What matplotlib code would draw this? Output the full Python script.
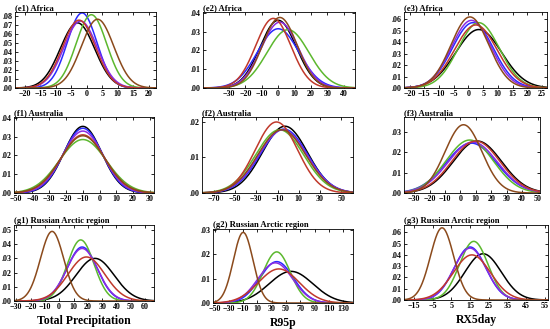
import numpy as np
import matplotlib
matplotlib.use("Agg")
import matplotlib.pyplot as plt
from matplotlib.ticker import FuncFormatter

plt.rcParams['font.family'] = ['Liberation Serif', 'DejaVu Serif']
plt.rcParams['font.weight'] = 'bold'

series = ["black", "blue", "green", "purple", "red", "brown"]
colors = {"black": "#000000", "blue": "#2a2aff", "green": "#5cb82e",
          "purple": "#8a2be2", "red": "#c0392b", "brown": "#8b4a1c"}

titles = ["(e1) Africa", "(e2) Africa", "(e3) Africa",
          "(f1) Australia", "(f2) Australia", "(f3) Australia",
          "(g1) Russian Arctic region", "(g2) Russian Arctic region", "(g3) Russian Arctic region"]
xlabels = ["Total Precipitation", "R95p", "RX5day"]

# fitted normal distributions: means and peak densities per series (black, blue, green, purple, red, brown)
means = {
    "e1": [-3, -1.5, 1.5, -2, -2.5, 3.5],
    "e2": [0, 0, 6, 1, -3, 1],
    "e3": [3.5, 1.5, 3.5, 1, 2.5, 0.5],
    "f1": [-10, -10, -10, -10, -10, -10],
    "f2": [-3, -4, -8, -5, -11, -6],
    "f3": [11, 7, 6, 8, 10, 2],
    "g1": [25, 16, 15, 16, 19, -5],
    "g2": [57, 37, 37, 35, 40, -10],
    "g3": [22, 15, 17, 15, 16, 0],
}
peaks = {
    "e1": [0.072, 0.083, 0.081, 0.074, 0.075, 0.076],
    "e2": [0.036, 0.0315, 0.031, 0.035, 0.037, 0.0375],
    "e3": [0.051, 0.057, 0.057, 0.059, 0.055, 0.062],
    "f1": [0.0355, 0.0345, 0.0285, 0.033, 0.031, 0.0305],
    "f2": [0.0188, 0.018, 0.0178, 0.0178, 0.020, 0.0178],
    "f3": [0.0255, 0.0245, 0.026, 0.025, 0.0255, 0.0335],
    "g1": [0.030, 0.038, 0.043, 0.037, 0.031, 0.049],
    "g2": [0.013, 0.017, 0.021, 0.0165, 0.014, 0.029],
    "g3": [0.041, 0.047, 0.052, 0.046, 0.040, 0.064],
}

xlims = {"e1": (-23.2, 22.4), "e2": (-46, 47), "e3": (-21.9, 26.7),
         "f1": (-51, 32.4), "f2": (-80.9, 60.9), "f3": (-36.5, 51.5),
         "g1": (-31.6, 66.2), "g2": (-52.3, 143.9), "g3": (-20.4, 56.8)}
ylims = {"e1": 0.084, "e2": 0.0404, "e3": 0.0663, "f1": 0.0405, "f2": 0.0214,
         "f3": 0.0373, "g1": 0.0535, "g2": 0.0304, "g3": 0.0665}
xticks = {"e1": np.arange(-20, 21, 5), "e2": np.arange(-30, 41, 10), "e3": np.arange(-20, 26, 5),
          "f1": np.arange(-50, 31, 10), "f2": np.arange(-70, 51, 20), "f3": np.arange(-30, 51, 10),
          "g1": np.arange(-30, 61, 10), "g2": np.arange(-50, 131, 20), "g3": np.arange(-15, 56, 10)}

# axes boxes in pixels: left, right, top, bottom
W, H = 550, 329
boxes = {"e1": (15, 156, 12, 88), "e2": (203, 355, 12, 88), "e3": (404, 547, 12, 88),
         "f1": (14, 154, 117, 193), "f2": (202, 353, 117, 193), "f3": (404, 540, 117, 193),
         "g1": (14, 154, 225, 301), "g2": (213, 353, 229, 303), "g3": (404, 548, 225, 300)}

fig = plt.figure(figsize=(5.5, 3.29), dpi=100)
keys = ["e1", "e2", "e3", "f1", "f2", "f3", "g1", "g2", "g3"]
fmt = FuncFormatter(lambda v, p: ("%.2f" % v).lstrip("0") if v >= 0 else "%.2f" % v)

for i, k in enumerate(keys):
    l, r, t, b = boxes[k]
    ax = fig.add_axes([l / W, 1 - b / H, (r - l) / W, (b - t) / H])
    x0, x1 = xlims[k]
    x = np.linspace(x0, x1, 600)
    for j, s in enumerate(series):
        mu = means[k][j]
        pk = peaks[k][j]
        sd = 1 / (pk * np.sqrt(2 * np.pi))
        y = pk * np.exp(-0.5 * ((x - mu) / sd) ** 2)
        ax.plot(x, y, color=colors[s], lw=1.1)
    ax.set_xlim(x0, x1)
    ax.set_ylim(0, ylims[k])
    ax.set_xticks(xticks[k])
    ax.set_yticks(np.arange(0, ylims[k] + 1e-9, 0.01))
    ax.yaxis.set_major_formatter(fmt)
    ax.tick_params(direction="in", top=True, right=True, labelsize=5.8, length=2, width=0.6, pad=1.5)
    for lab in ax.get_xticklabels() + ax.get_yticklabels():
        lab.set_fontweight("bold")
    for sp in ax.spines.values():
        sp.set_linewidth(0.6)
    ax.set_title(titles[i], loc="left", fontsize=6.2, fontweight="bold", pad=1.5)
    if i >= 6:
        ax.set_xlabel(xlabels[i - 6], fontsize=8.5, fontweight="bold", labelpad=3)

fig.savefig("out.png", dpi=100)
